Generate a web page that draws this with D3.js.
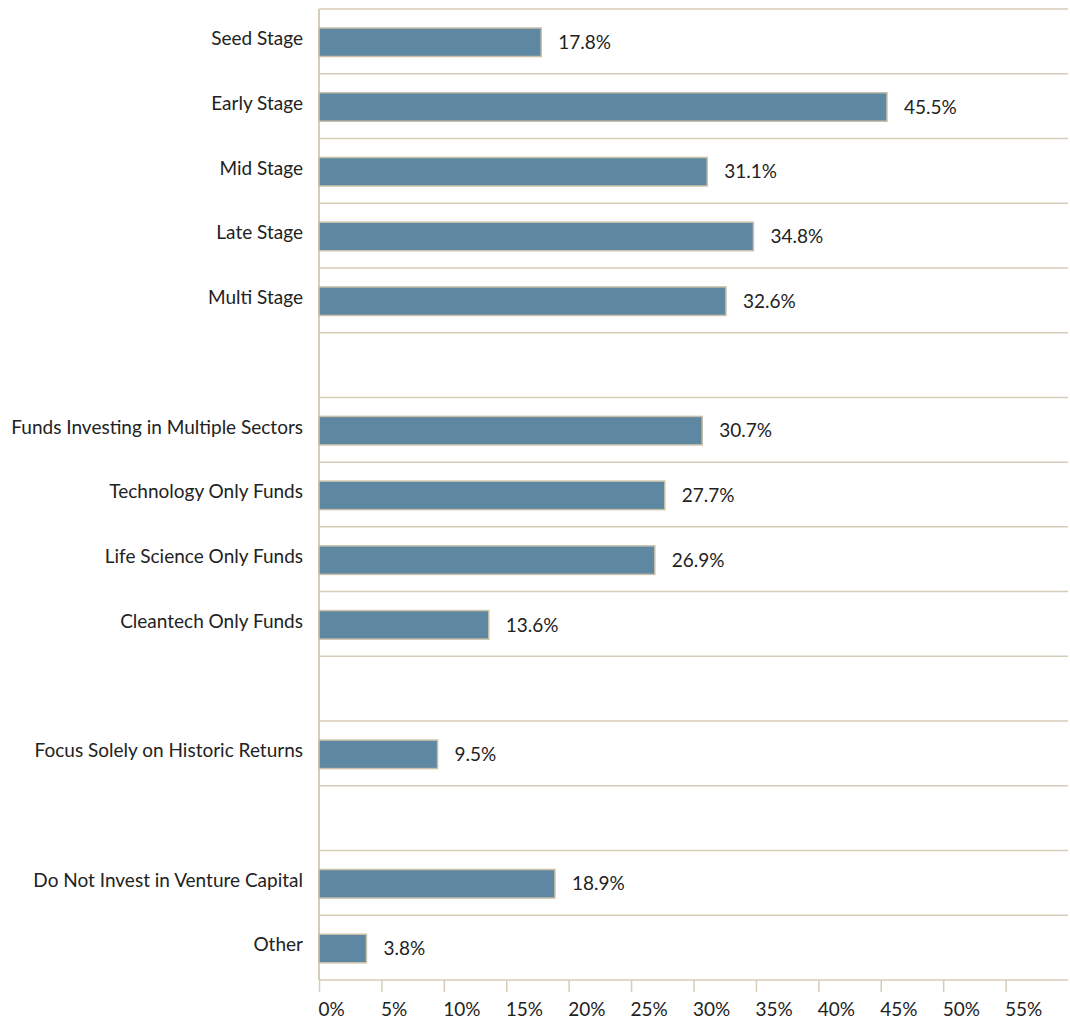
<!DOCTYPE html>
<html>
<head>
<meta charset="utf-8">
<script src="https://cdn.jsdelivr.net/npm/d3@7"></script>
<style>
  html, body { margin: 0; padding: 0; background: #fff; }
  svg text { font-family: Lato, "Open Sans", sans-serif; fill: #222; }
</style>
</head>
<body>
<svg id="chart" width="1070" height="1022"></svg>
<script>
// Rows of the chart, top to bottom; empty names are spacer rows between groups
const categories = [
  "Seed Stage", "Early Stage", "Mid Stage", "Late Stage", "Multi Stage",
  "",
  "Funds Investing in Multiple Sectors", "Technology Only Funds",
  "Life Science Only Funds", "Cleantech Only Funds",
  "",
  "Focus Solely on Historic Returns",
  "",
  "Do Not Invest in Venture Capital", "Other"
];
const values = [17.8, 45.5, 31.1, 34.8, 32.6, null, 30.7, 27.7, 26.9, 13.6, null, 9.5, null, 18.9, 3.8];
const tickValues = [0, 5, 10, 15, 20, 25, 30, 35, 40, 45, 50, 55];

const rows = categories.map((name, i) => ({ key: "row" + i, name, value: values[i] }));

const margin = { top: 9, right: 2, bottom: 42, left: 319 };
const width = 1070, height = 1022;
const svg = d3.select("#chart");

const x = d3.scaleLinear().domain([0, 60]).range([margin.left, width - margin.right]);
const y = d3.scaleBand().domain(rows.map(d => d.key)).range([margin.top, height - margin.bottom]);

const lineColor = "#d6cdb9";

// horizontal separators between rows
const bounds = rows.map(d => y(d.key)).concat([y.range()[1]]);
svg.append("g").selectAll("line").data(bounds).join("line")
  .attr("x1", x(0)).attr("x2", x(60))
  .attr("y1", d => d).attr("y2", d => d)
  .attr("stroke", lineColor).attr("stroke-width", 1.5);

// left axis line
svg.append("line")
  .attr("x1", x(0)).attr("x2", x(0))
  .attr("y1", margin.top).attr("y2", y.range()[1])
  .attr("stroke", lineColor).attr("stroke-width", 2);

// bottom axis with ticks; labels sit just right of each tick
const axis = svg.append("g").attr("transform", `translate(0,${y.range()[1]})`)
  .call(d3.axisBottom(x).tickValues(tickValues).tickSize(12).tickFormat(d => d + "%"));
axis.select(".domain").remove();
axis.selectAll(".tick line").attr("stroke", lineColor).attr("stroke-width", 1.5);
axis.selectAll(".tick text")
  .attr("text-anchor", "start").attr("x", -1).attr("y", 30)
  .attr("dy", "0.32em").style("font-size", "19px").style("font-family", "Lato, sans-serif").attr("fill", "#222");

const barH = 28.5;
const barOffset = 19;
const data = rows.filter(d => d.value != null);

svg.append("g").selectAll("rect").data(data).join("rect")
  .attr("x", x(0))
  .attr("y", d => y(d.key) + barOffset)
  .attr("width", d => x(d.value) - x(0))
  .attr("height", barH)
  .attr("fill", "#5e87a1")
  .attr("stroke", "#c9c0a9").attr("stroke-width", 1.5);

// value labels
svg.append("g").selectAll("text").data(data).join("text")
  .attr("x", d => x(d.value) + 17)
  .attr("y", d => y(d.key) + barOffset + barH / 2)
  .attr("dy", "0.35em")
  .style("font-size", "19px")
  .text(d => d.value.toFixed(1) + "%");

// category labels
svg.append("g").selectAll("text").data(rows.filter(d => d.name)).join("text")
  .attr("x", 303)
  .attr("y", d => y(d.key) + 29.5)
  .attr("dy", "0.35em")
  .attr("text-anchor", "end")
  .style("font-size", "19px")
  .text(d => d.name);
</script>
</body>
</html>
